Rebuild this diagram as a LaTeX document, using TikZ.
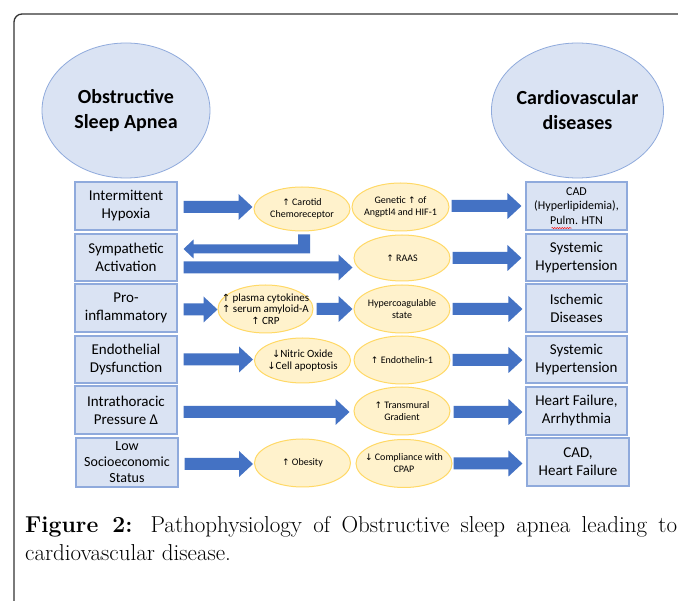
\documentclass[tikz,border=0pt]{standalone}
\usepackage{fontspec}
\usetikzlibrary{shapes.geometric,calc,decorations.pathmorphing}
\newfontfamily\calib{Carlito}
\newfontfamily\arrowfont[Scale=0.9]{DejaVu Sans}
\newcommand\upa{{\arrowfont ↑}}
\newcommand\dna{{\arrowfont ↓}}
\definecolor{boxfill}{HTML}{DAE3F3}
\definecolor{boxline}{HTML}{8FAADC}
\definecolor{yfill}{HTML}{FFF2CC}
\definecolor{yline}{HTML}{FFD966}
\definecolor{arr}{HTML}{4472C4}
\definecolor{frm}{HTML}{333333}
\begin{document}
\begin{tikzpicture}[x=1pt,y=-1pt,
  lbox/.style={draw=boxline, fill=boxfill, line width=1.1, minimum width=102, inner sep=0, align=center, font=\calib\fontsize{15}{18}\selectfont},
  yel/.style={ellipse, draw=yline, fill=yfill, line width=1, inner sep=0, minimum width=96, minimum height=48},
  etxt/.style={align=center, font=\calib\fontsize{10}{12}\selectfont, inner sep=0},
  etxtb/.style={align=center, font=\calib\fontsize{11}{11.5}\selectfont, inner sep=0},
  big/.style={ellipse, draw=boxline, fill=boxfill, line width=0.8, inner sep=0, align=center, font=\calib\bfseries\fontsize{20}{25}\selectfont},
  blk/.style={to path={let \p1=(\tikztostart), \p2=(\tikztotarget) in
     (\x1,\y1+6pt) -- (\x2-14pt,\y1+6pt) -- (\x2-14pt,\y1+13pt) -- (\x2,\y1) --
     (\x2-14pt,\y1-13pt) -- (\x2-14pt,\y1-6pt) -- (\x1,\y1-6pt) -- cycle}}
]
\useasboundingbox (0,0) rectangle (678,601);
\clip (0,0) rectangle (678,601);
\fill[white] (0,0) rectangle (678,601);
\draw[frm, line width=1.3, rounded corners=8] (14,640) -- (14,14) -- (720,14);

% big ellipses
\node[big, minimum width=168, minimum height=135] (osa) at (126,110.5) {Obstructive\\Sleep Apnea};
\node[big, minimum width=167, minimum height=135] (cvd) at (577.5,110.5) {Cardiovascular\\diseases};

% left boxes
\node[lbox, minimum height=48] (b1) at (126,206) {Intermittent\\Hypoxia};
\node[lbox, minimum height=47] (b2) at (126,257.5) {Sympathetic\\Activation};
\node[lbox, minimum height=48] (b3) at (126,308) {Pro-\\inflammatory};
\node[lbox, minimum height=47] (b4) at (126,359.5) {Endothelial\\Dysfunction};
\node[lbox, minimum height=48] (b5) at (126,410) {Intrathoracic\\Pressure Δ};
\node[lbox, minimum height=49, font=\calib\fontsize{14}{16}\selectfont] (b6) at (127,462.5) {Low\\Socioeconomic\\Status};

% right boxes
\node[lbox, minimum width=101, minimum height=48, font=\calib\fontsize{12}{14.5}\selectfont] (r1) at (576.5,206) {CAD\\(Hyperlipidemia),\\Pulm. HTN};
\node[lbox, minimum width=101, minimum height=47] (r2) at (576.5,257.5) {Systemic\\Hypertension};
\node[lbox, minimum width=101, minimum height=48] (r3) at (576.5,308) {Ischemic\\Diseases};
\node[lbox, minimum width=101, minimum height=47] (r4) at (576.5,359.5) {Systemic\\Hypertension};
\node[lbox, minimum width=101, minimum height=48] (r5) at (576.5,411) {Heart Failure,\\Arrhythmia};
\node[lbox, minimum width=102, minimum height=48] (r6) at (578,462) {CAD,\\Heart Failure};

% yellow ellipses
\node[yel, minimum height=44, label={[etxt]center:{\upa{} Carotid\\Chemoreceptor}}] (e1) at (302,209) {};
\node[yel, minimum width=97, label={[etxt]center:{Genetic \upa{} of\\Angptl4 and HIF-1}}] (e2) at (400.5,207) {};
\node[yel, minimum height=46, label={[etxt]center:{\upa{} RAAS}}] (e3) at (402,258) {};
\node[yel, minimum width=95, label={[etxtb]center:{\upa{} plasma cytokines\\\upa{} serum amyloid-A\\\upa{} CRP}}] (e4) at (265.5,309) {};
\node[yel, label={[etxt]center:{Hypercoagulable\\state}}] (e5) at (402,309) {};
\node[yel, minimum height=45, label={[etxtb,font=\calib\fontsize{11}{12.5}\selectfont]center:{\dna Nitric Oxide\\\dna Cell apoptosis}}] (e6) at (302.5,360.5) {};
\node[yel, label={[etxt]center:{\upa{} Endothelin-1}}] (e7) at (402,360) {};
\node[yel, label={[etxt]center:{\upa{} Transmural\\Gradient}}] (e8) at (402,411) {};
\node[yel, label={[etxt]center:{\upa{} Obesity}}] (e9) at (302.5,463) {};
\node[yel, label={[etxt]center:{\dna{} Compliance with\\CPAP}}] (e10) at (404,463.5) {};

% block arrows
\fill[arr] ([xshift=6,yshift=-1]b1.east) to[blk] ([xshift=-1]e1.west);
\fill[arr] ([xshift=2,yshift=1]e2.east) to[blk] ([xshift=-4]r1.west);
\fill[arr] let \p1=(e1.south), \p2=(b2.east) in
  (\x1+8pt,\y1-3pt) -- (\x1+8pt,\y1-22pt) -- (\x2+16pt,\y1-22pt) -- (\x2+16pt,\y1-27pt) --
  (\x2+6pt,\y1-17.5pt) -- (\x2+16pt,\y1-8pt) -- (\x2+16pt,\y1-13pt) -- (\x1-4pt,\y1-13pt) --
  (\x1-4pt,\y1-3pt) -- cycle;
\fill[arr] ([xshift=6,yshift=-10]b2.east) to[blk] ([xshift=-1]e3.west);
\fill[arr] ([xshift=2]e3.east) to[blk] ([xshift=-4]r2.west);
\fill[arr] ([xshift=6,yshift=-1.5]b3.east) to[blk] ([xshift=0]e4.west);
\fill[arr] ([xshift=3]e4.east) to[blk] ([xshift=-1]e5.west);
\fill[arr] ([xshift=2]e5.east) to[blk] ([xshift=-3]r3.west);
\fill[arr] ([xshift=6]b4.east) to[blk] ([xshift=-1]e6.west);
\fill[arr] ([xshift=2]e7.east) to[blk] ([xshift=-3]r4.west);
\fill[arr] ([xshift=6,yshift=-2]b5.east) to[blk] ([xshift=-4]e8.west);
\fill[arr] ([xshift=3,yshift=-1]e8.east) to[blk] ([xshift=-3]r5.west);
\fill[arr] ([xshift=6,yshift=-1.5]b6.east) to[blk] ([xshift=-1]e9.west);
\fill[arr] ([xshift=1]e10.east) to[blk] ([xshift=-4]r6.west);

% spell-check underline
\draw[red, line width=0.5, decorate, decoration={snake, amplitude=0.6pt, segment length=2.5pt}]
  ($(r1.south)+(-25,-2.5)$) -- ($(r1.south)+(-5,-2.5)$);

% caption
\node[anchor=north west, inner sep=0, text width=652, align=justify, font=\fontsize{23}{28}\selectfont] (cap) at (25,516)
  {\textbf{Figure 2:} Pathophysiology of Obstructive sleep apnea leading to\linebreak cardiovascular disease.};
\end{tikzpicture}
\end{document}
